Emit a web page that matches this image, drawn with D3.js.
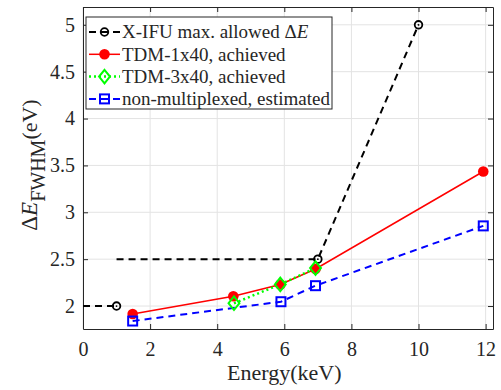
<!DOCTYPE html>
<html>
<head>
<meta charset="utf-8">
<script src="https://cdn.jsdelivr.net/npm/d3@7"></script>
<style>
  body { margin: 0; background: #fff; }
</style>
</head>
<body>
<div id="chart"></div>
<script>
// X-IFU requirement (two pieces, markers at 1, 7, 10)
const xifuLow = [[0, 2], [1, 2]];
const xifuHigh = [[1, 2.5], [7, 2.5], [10, 5]];
const xifuMarks = [[1, 2], [7, 2.5], [10, 5]];

const tdm1Energy = [1.48, 4.48, 5.88, 6.93, 11.93];
const tdm1Res = [1.915, 2.105, 2.23, 2.395, 3.435];

const tdm3Energy = [4.5, 5.88, 6.93];
const tdm3Res = [2.03, 2.23, 2.405];

const nmEnergy = [1.48, 5.9, 6.93, 11.93];
const nmRes = [1.84, 2.046, 2.217, 2.855];

const xTicks = [0, 2, 4, 6, 8, 10, 12];
const yTicks = [2, 2.5, 3, 3.5, 4, 4.5, 5];

const FONT = "Liberation Serif";

const W = 501, H = 390;
const margin = { left: 83, right: 8, top: 7, bottom: 61 };
const iw = W - margin.left - margin.right;
const ih = H - margin.top - margin.bottom;

const svg = d3.select("#chart").append("svg")
  .attr("width", W).attr("height", H)
  .attr("font-family", FONT);

const g = svg.append("g")
  .attr("transform", "translate(" + margin.left + "," + margin.top + ")");

const x = d3.scaleLinear().domain([0, 12.22]).range([0, iw]);
const y = d3.scaleLinear().domain([1.755, 5.19]).range([ih, 0]);

// grid
g.selectAll(".gx").data(xTicks).enter().append("line")
  .attr("x1", d => x(d)).attr("x2", d => x(d))
  .attr("y1", 0).attr("y2", ih)
  .attr("stroke", "#e3e3e3").attr("stroke-width", 1);
g.selectAll(".gy").data(yTicks).enter().append("line")
  .attr("x1", 0).attr("x2", iw)
  .attr("y1", d => y(d)).attr("y2", d => y(d))
  .attr("stroke", "#e3e3e3").attr("stroke-width", 1);

// axes (ticks inside)
const axB = g.append("g").attr("transform", "translate(0," + ih + ")")
  .call(d3.axisBottom(x).tickValues(xTicks).tickSizeInner(-5).tickSizeOuter(0).tickPadding(11).tickFormat(d3.format("")));
const axL = g.append("g")
  .call(d3.axisLeft(y).tickValues(yTicks).tickSizeInner(-5).tickSizeOuter(0).tickPadding(8).tickFormat(d3.format("")));
const axT = g.append("g")
  .call(d3.axisTop(x).tickValues(xTicks).tickSizeInner(-5).tickSizeOuter(0).tickFormat(""));
const axR = g.append("g").attr("transform", "translate(" + iw + ",0)")
  .call(d3.axisRight(y).tickValues(yTicks).tickSizeInner(-5).tickSizeOuter(0).tickFormat(""));
[axB, axL, axT, axR].forEach(a => {
  a.attr("font-family", FONT).attr("font-size", 20);
  a.select(".domain").attr("stroke", "#262626").attr("stroke-width", 1);
  a.selectAll(".tick line").attr("stroke", "#262626");
  a.selectAll(".tick text").attr("fill", "#262626");
});
axB.selectAll(".tick text").attr("dy", "0.8em");

const line = d3.line().x(d => x(d[0])).y(d => y(d[1]));

// X-IFU
[xifuLow, xifuHigh].forEach(seg => {
  g.append("path").datum(seg).attr("d", line)
    .attr("fill", "none").attr("stroke", "#000").attr("stroke-width", 2)
    .attr("stroke-dasharray", "7,5");
});

// TDM-1x40
const tdm1 = tdm1Energy.map((e, i) => [e, tdm1Res[i]]);
g.append("path").datum(tdm1).attr("d", line)
  .attr("fill", "none").attr("stroke", "#ff0000").attr("stroke-width", 1.5);

// non-multiplexed
const nm = nmEnergy.map((e, i) => [e, nmRes[i]]);
g.append("path").datum(nm).attr("d", line)
  .attr("fill", "none").attr("stroke", "#0000ff").attr("stroke-width", 2)
  .attr("stroke-dasharray", "7,5");

// TDM-3x40
const tdm3 = tdm3Energy.map((e, i) => [e, tdm3Res[i]]);
g.append("path").datum(tdm3).attr("d", line)
  .attr("fill", "none").attr("stroke", "#00ff00").attr("stroke-width", 2.5)
  .attr("stroke-dasharray", "2,3");

// markers
function circleMark(sel, cx, cy) {
  sel.append("circle").attr("cx", cx).attr("cy", cy).attr("r", 3.8)
    .attr("fill", "none").attr("stroke", "#000").attr("stroke-width", 1.8);
  sel.append("circle").attr("cx", cx).attr("cy", cy).attr("r", 0.9).attr("fill", "#000");
}
function dotMark(sel, cx, cy) {
  sel.append("circle").attr("cx", cx).attr("cy", cy).attr("r", 5.3).attr("fill", "#ff0000");
}
function diamondMark(sel, cx, cy) {
  const s = 6.8;
  sel.append("path")
    .attr("d", `M${cx},${cy - s}L${cx + s * 0.8},${cy}L${cx},${cy + s}L${cx - s * 0.8},${cy}Z`)
    .attr("fill", "none").attr("stroke", "#00ff00").attr("stroke-width", 2);
}
function squareMark(sel, cx, cy) {
  sel.append("rect").attr("x", cx - 4.5).attr("y", cy - 4.5).attr("width", 9).attr("height", 9)
    .attr("fill", "none").attr("stroke", "#0000ff").attr("stroke-width", 2);
}

xifuMarks.forEach(d => circleMark(g, x(d[0]), y(d[1])));
tdm1.forEach(d => dotMark(g, x(d[0]), y(d[1])));
tdm3.forEach(d => diamondMark(g, x(d[0]), y(d[1])));
nm.forEach(d => squareMark(g, x(d[0]), y(d[1])));

// axis labels
svg.append("text")
  .attr("x", margin.left + x(6)).attr("y", 380)
  .attr("text-anchor", "middle").attr("font-size", 22).attr("fill", "#262626")
  .text("Energy(keV)");

const yl = svg.append("text")
  .attr("transform", "translate(37,165) rotate(-90)")
  .attr("text-anchor", "middle").attr("font-size", 23).attr("fill", "#262626");
yl.append("tspan").text("Δ");
yl.append("tspan").attr("font-style", "italic").text("E");
yl.append("tspan").attr("dy", 8).attr("font-size", 20).text("FWHM");
yl.append("tspan").attr("dy", -8).attr("font-size", 22).text("(eV)");

// legend
const leg = svg.append("g").attr("transform", "translate(86,17)");
leg.append("rect").attr("width", 246).attr("height", 92)
  .attr("fill", "#fff").attr("stroke", "#262626").attr("stroke-width", 1);

const legItems = [
  { label: "X-IFU max. allowed ", color: "#000", dash: "7,5", w: 2, mark: circleMark, extra: true },
  { label: "TDM-1x40, achieved", color: "#ff0000", dash: null, w: 1.5, mark: dotMark },
  { label: "TDM-3x40, achieved", color: "#00ff00", dash: "2,3", w: 2.5, mark: diamondMark },
  { label: "non-multiplexed, estimated", color: "#0000ff", dash: "7,5", w: 2, mark: squareMark }
];
legItems.forEach((it, i) => {
  const cy = 15 + i * 22.3;
  leg.append("line").attr("x1", 3).attr("x2", 34).attr("y1", cy).attr("y2", cy)
    .attr("stroke", it.color).attr("stroke-width", it.w)
    .attr("stroke-dasharray", it.dash);
  it.mark(leg, 18.5, cy);
  const t = leg.append("text").attr("x", 36).attr("y", cy).attr("dy", "0.33em")
    .attr("font-size", 19).attr("fill", "#262626").text(it.label);
  if (it.extra) {
    t.append("tspan").text("Δ");
    t.append("tspan").attr("font-style", "italic").text("E");
  }
});
</script>
</body>
</html>
